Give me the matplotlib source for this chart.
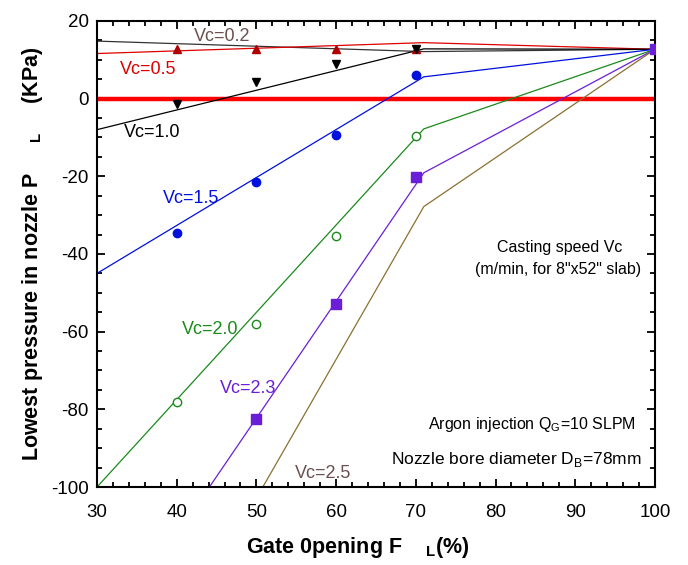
import matplotlib
matplotlib.use("Agg")
from matplotlib import pyplot as plt
from matplotlib.ticker import MultipleLocator

plt.rcParams['font.family'] = ['Liberation Sans', 'DejaVu Sans']
plt.rcParams['mathtext.fontset'] = 'custom'
plt.rcParams['mathtext.rm'] = 'Liberation Sans'
plt.rcParams['mathtext.bf'] = 'Liberation Sans:bold'
plt.rcParams['axes.unicode_minus'] = False

# measured points (gate opening %, lowest pressure KPa)
gate_pts = [40, 50, 60, 70]
p_05 = [12.7, 12.7, 12.7, 12.7]
p_10 = [-1.4, 4.3, 8.8, 12.8]
p_15 = [-34.5, -21.5, -9.4, 6.2]
p_20 = [-78.1, -58.0, -35.3, -9.6]
gate_23 = [50, 60, 70, 100]
p_23 = [-82.6, -52.8, -20.2, 12.7]

# model curves
line_02_x = [30, 71, 100]
line_02_y = [14.8, 12.1, 12.7]
line_05_x = [30, 71, 100]
line_05_y = [11.6, 14.4, 12.7]
line_10_x = [30, 71, 100]
line_10_y = [-8.0, 12.8, 12.7]
line_15_x = [30, 71, 100]
line_15_y = [-45.0, 5.6, 12.7]
line_20_x = [30, 71, 100]
line_20_y = [-100.0, -7.8, 12.7]
line_23_x = [44.1, 71, 100]
line_23_y = [-100.0, -19.1, 12.7]
line_25_x = [50.8, 71, 100]
line_25_y = [-100.0, -27.8, 12.7]

c_blue = '#0010dd'
c_green = '#1a8a1a'
c_purple = '#6a1ed8'
c_brown = '#8b7030'
c_red = '#dd0000'

fig = plt.figure(figsize=(6.88, 5.65), dpi=100)
ax = fig.add_axes([0.141, 0.138, 0.811, 0.825])

ax.axhline(0, color='#ff0000', lw=3.2, zorder=2)

ax.plot(line_02_x, line_02_y, color='#333333', lw=0.9)
ax.plot(line_05_x, line_05_y, color=c_red, lw=0.9)
ax.plot(line_10_x, line_10_y, color='black', lw=0.9)
ax.plot(line_15_x, line_15_y, color=c_blue, lw=0.9)
ax.plot(line_20_x, line_20_y, color=c_green, lw=0.9)
ax.plot(line_23_x, line_23_y, color=c_purple, lw=0.9)
ax.plot(line_25_x, line_25_y, color=c_brown, lw=0.9)

ax.plot(gate_pts, p_05, '^', color='#b00000', ms=6, ls='none', zorder=4)
ax.plot(gate_pts, p_10, 'v', color='black', ms=6, ls='none', zorder=5)
ax.plot(gate_pts, p_15, 'o', color=c_blue, ms=6, ls='none', zorder=4)
ax.plot(gate_pts, p_20, 'o', mfc='white', mec=c_green, ms=6, ls='none', zorder=4)
ax.plot(gate_23, p_23, 's', color=c_purple, ms=7, ls='none', zorder=4)

lab = dict(fontsize=13, ha='center', va='center')
ax.text(45.7, 16.0, 'Vc=0.2', color='#6b5050', **lab)
ax.text(36.4, 7.5, 'Vc=0.5', color=c_red, **lab)
ax.text(36.9, -8.8, 'Vc=1.0', color='black', **lab)
ax.text(41.8, -25.7, 'Vc=1.5', color=c_blue, **lab)
ax.text(44.2, -59.5, 'Vc=2.0', color=c_green, **lab)
ax.text(48.9, -74.6, 'Vc=2.3', color=c_purple, **lab)
ax.text(58.4, -96.6, 'Vc=2.5', color='#6b5050', **lab)

note = dict(fontsize=11.5, ha='center', va='center')
ax.text(88.0, -38.4, 'Casting speed Vc', **note)
ax.text(87.8, -44.0, '(m/min, for 8"x52" slab)', **note)
ax.text(84.6, -83.8, 'Argon injection Q$_\\mathregular{G}$=10 SLPM', **note)
ax.text(82.6, -93.0, 'Nozzle bore diameter D$_\\mathregular{B}$=78mm', fontsize=12.5,
        ha='center', va='center')

ax.set_xlim(30, 100)
ax.set_ylim(-100, 20)
ax.xaxis.set_major_locator(MultipleLocator(10))
ax.xaxis.set_minor_locator(MultipleLocator(2))
ax.yaxis.set_major_locator(MultipleLocator(20))
ax.yaxis.set_minor_locator(MultipleLocator(5))
ax.tick_params(which='both', direction='in', top=True, right=True, width=1.3,
               labelsize=13.5)
ax.tick_params(which='major', length=6, pad=6)
ax.tick_params(which='minor', length=3.5)
ax.tick_params(axis='x', which='major', pad=12)
for s in ax.spines.values():
    s.set_linewidth(1.5)

ax.set_xlabel('Gate 0pening F    $_\\mathbf{L}$(%)', fontsize=15.5, fontweight='bold',
              labelpad=10, x=0.468)
ax.set_ylabel('Lowest pressure in nozzle P     $_\\mathbf{L}$     (KPa)', fontsize=15.5,
              fontweight='bold', labelpad=4)

fig.savefig('out.png', dpi=100)
